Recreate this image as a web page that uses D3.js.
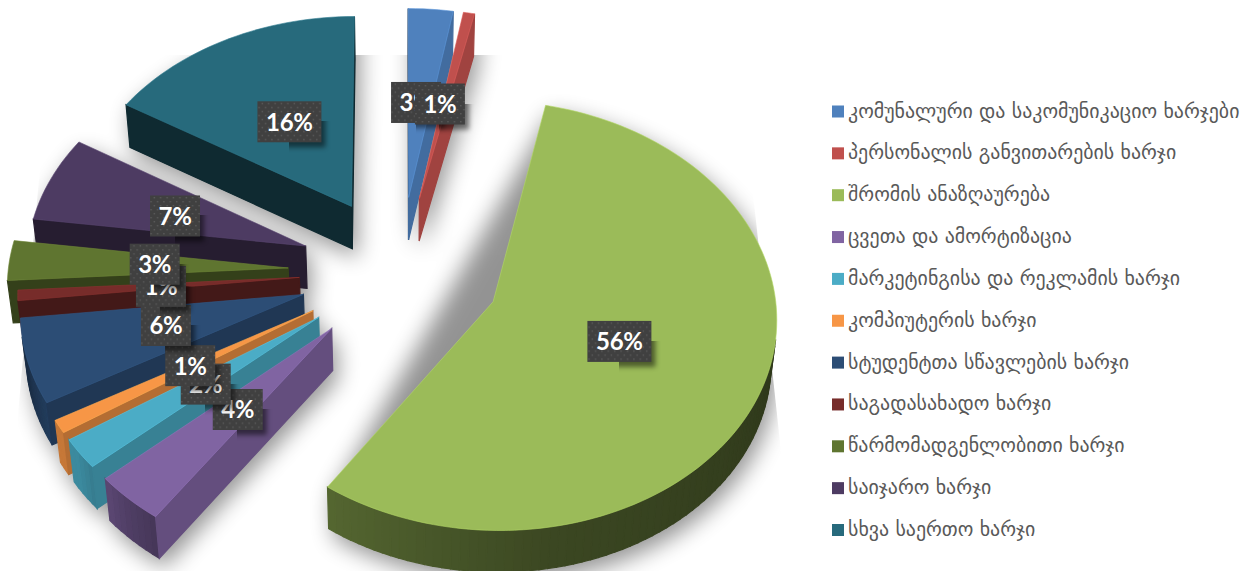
<!DOCTYPE html>
<html>
<head>
  <title>Pie 3D</title>
  <meta charset="utf-8">
  <script src="https://d3js.org/d3.v7.min.js"></script>
  <style>
    body { margin: 0; background: #fff; }
    svg { display: block; }
    .legend text { font-family: "DejaVu Sans", sans-serif; font-size: 19.9px; fill: #595959; }
    .lbl text { font-family: Lato, "Open Sans", sans-serif; font-weight: 700; font-size: 24px; letter-spacing: -0.3px; fill: #fff; text-anchor: middle; }
  </style>
</head>
<body>
  <svg width="1251" height="571"></svg>
  <script>
    var categories = [
      "კომუნალური და საკომუნიკაციო ხარჯები",
      "პერსონალის განვითარების ხარჯი",
      "შრომის ანაზღაურება",
      "ცვეთა და ამორტიზაცია",
      "მარკეტინგისა და რეკლამის ხარჯი",
      "კომპიუტერის ხარჯი",
      "სტუდენტთა სწავლების ხარჯი",
      "საგადასახადო ხარჯი",
      "წარმომადგენლობითი ხარჯი",
      "საიჯარო ხარჯი",
      "სხვა საერთო ხარჯი"
    ];
    var values = [2.8, 0.7, 56.2, 3.8, 2.3, 1.0, 6.45, 0.8, 3.05, 6.6, 16.3];
    var colors = ["#4f81bd", "#c0504d", "#9bbb59", "#8064a2", "#4bacc6", "#f79646", "#2c4d75", "#772c2a", "#5f7530", "#4d3b62", "#276a7c"];
    // far to near, the order the slices have to be painted in
    var paintOrder = [10, 0, 1, 9, 8, 7, 6, 5, 4, 3, 2];
    var explosion = [36, 36, 36, 36, 36, 36, 36, 36, 40, 36, 36];

    // perspective of the pie, radius = 1
    var cx = 400, cy = 271, sx = 280, sy = 210, depth = 15.6, thick = 43, sink = 0.015;

    function project(x, y, z) {
      var w = 1 + y / depth + sink * z;
      return [cx + sx * x / w, cy - sy * y / w + thick * z / w];
    }

    var svg = d3.select("svg");
    var defs = svg.append("defs");

    defs.append("filter").attr("id", "blur").attr("filterUnits", "userSpaceOnUse")
      .attr("x", 0).attr("y", 0).attr("width", 1251).attr("height", 571)
      .append("feGaussianBlur").attr("stdDeviation", 11);
    defs.append("filter").attr("id", "blur2").attr("filterUnits", "userSpaceOnUse")
      .attr("x", 0).attr("y", 0).attr("width", 1251).attr("height", 571)
      .append("feGaussianBlur").attr("stdDeviation", 2.5);

    // the shadow is cut by the plot box of the chart
    defs.append("clipPath").attr("id", "plotbox").append("polygon")
      .attr("points", "50,55 738,55 794,571 4,571");

    var dots = defs.append("pattern").attr("id", "dots").attr("patternUnits", "userSpaceOnUse")
      .attr("width", 6.4).attr("height", 8);
    dots.append("rect").attr("width", 6.4).attr("height", 8).attr("fill", "#404040");
    dots.append("rect").attr("x", 1).attr("y", 1).attr("width", 1.4).attr("height", 1.4).attr("fill", "#5a5a5a");
    dots.append("rect").attr("x", 4.2).attr("y", 5).attr("width", 1.4).attr("height", 1.4).attr("fill", "#5a5a5a");

    var pie = d3.pie().sort(null);
    var arcs = pie(values);
    var line = d3.line();
    var pct = d3.format(".0f");

    // how much light a wall gets, by the direction it faces (degrees clockwise from up)
    var radialLight = d3.scaleLinear().domain([100, 150, 180, 215]).range([0.84, 0.72, 0.52, 0.38]).clamp(true);
    var outerLight = d3.scaleLinear()
      .domain([100, 170, 216, 224, 234, 240, 255, 270, 290])
      .range([0.3, 0.38, 0.55, 0.64, 0.8, 0.8, 0.6, 0.55, 0.35]).clamp(true);

    function shade(c, k) {
      var o = d3.rgb(c);
      return d3.rgb(o.r * k, o.g * k, o.b * k).formatHex();
    }
    function deg(a) { return a * 180 / Math.PI; }

    function sliceGeom(d, i) {
      var mid = (d.startAngle + d.endAngle) / 2;
      var e = explosion[i] / 100;
      var ox = e * Math.sin(mid), oy = e * Math.cos(mid);
      var steps = Math.max(4, Math.ceil((d.endAngle - d.startAngle) / 0.03));
      var angs = d3.range(steps + 1).map(function(k) {
        return d.startAngle + (d.endAngle - d.startAngle) * k / steps;
      });
      function pt(a, r, z) { return project(ox + r * Math.sin(a), oy + r * Math.cos(a), z); }
      return {
        mid: mid, angs: angs, pt: pt,
        top: [project(ox, oy, 0)].concat(angs.map(function(a) { return pt(a, 1, 0); })),
        bottom: [project(ox, oy, 1)].concat(angs.map(function(a) { return pt(a, 1, 1); }))
      };
    }

    var geoms = arcs.map(sliceGeom);

    function walls(i) {
      var g = geoms[i], d = arcs[i], out = [];
      var a0 = d.startAngle, a1 = d.endAngle;
      var start = [g.pt(a0, 0, 0), g.pt(a0, 1, 0), g.pt(a0, 1, 1), g.pt(a0, 0, 1)];
      var end = [g.pt(a1, 1, 0), g.pt(a1, 0, 0), g.pt(a1, 0, 1), g.pt(a1, 1, 1)];
      d3.pairs(g.angs).forEach(function(p) {
        out.push({
          poly: [g.pt(p[0], 1, 0), g.pt(p[1], 1, 0), g.pt(p[1], 1, 1), g.pt(p[0], 1, 1)],
          k: outerLight(deg((p[0] + p[1]) / 2))
        });
      });
      out.push({ poly: start, k: radialLight(((deg(a0) - 90) + 360) % 360) });
      out.push({ poly: end, k: radialLight(Math.min(215, deg(a1) + 90)) });
      // keep only the walls turned to the viewer
      return out.filter(function(w) { return d3.polygonArea(w.poly) >= 0; });
    }

    // shadows
    var shadow = svg.append("g").attr("clip-path", "url(#plotbox)")
      .append("g").attr("filter", "url(#blur)").attr("transform", "translate(5,9)")
      .attr("fill", "#000").attr("opacity", 0.42);
    arcs.forEach(function(d, i) {
      var hull = d3.polygonHull(geoms[i].top.concat(geoms[i].bottom));
      shadow.append("path").attr("d", line(hull) + "Z");
    });

    // slices
    var slices = svg.append("g").selectAll("g").data(paintOrder).enter().append("g");
    slices.each(function(i) {
      var g = d3.select(this);
      g.selectAll("path.wall").data(walls(i)).enter().append("path").attr("class", "wall")
        .attr("d", function(w) { return line(w.poly) + "Z"; })
        .attr("fill", function(w) { return shade(colors[i], w.k); })
        .attr("stroke", function(w) { return shade(colors[i], w.k); })
        .attr("stroke-width", 1.2);
      g.append("path").attr("d", line(geoms[i].top) + "Z")
        .attr("fill", colors[i])
        .attr("stroke", d3.color(colors[i]).brighter(0.4).formatHex())
        .attr("stroke-width", 0.6);
    });

    // data labels, at half the radius of each slice, then nudged where the chart had moved them
    var labelNudge = [[-4, 2], [-5, 1], [-6, -4], [5, -2], [4, 0], [2, -2], [-1, -2], [2, 0], [6, 0], [-2, 4], [2, 1]];
    var boxH = 41;
    var lbl = svg.append("g").selectAll("g").data(arcs).enter().append("g").attr("class", "lbl")
      .attr("transform", function(d, i) {
        var p = geoms[i].pt(geoms[i].mid, 0.5, 0);
        return "translate(" + (p[0] + labelNudge[i][0]) + "," + (p[1] + labelNudge[i][1]) + ")";
      });
    lbl.each(function(d) {
      var w = d.value >= 9.5 ? 64 : 50;
      d3.select(this).append("rect").attr("x", -w / 2 + 4).attr("y", -boxH / 2 + 5)
        .attr("width", w).attr("height", boxH).attr("fill", "#000").attr("opacity", 0.5)
        .attr("filter", "url(#blur2)");
      d3.select(this).append("rect").attr("x", -w / 2).attr("y", -boxH / 2)
        .attr("width", w).attr("height", boxH).attr("fill", "url(#dots)");
    });
    lbl.append("text").attr("y", 9).text(function(d) { return pct(d.value) + "%"; });

    // legend
    var legendY = d3.scalePoint().domain(categories).range([111.5, 530]);
    var legend = svg.append("g").attr("class", "legend").selectAll("g").data(categories).enter().append("g")
      .attr("transform", function(d) { return "translate(832," + legendY(d) + ")"; });
    legend.append("rect").attr("y", -6).attr("width", 12).attr("height", 12)
      .attr("fill", function(d, i) { return colors[i]; });
    legend.append("text").attr("x", 16).attr("y", 6).text(function(d) { return d; });
  </script>
</body>
</html>
